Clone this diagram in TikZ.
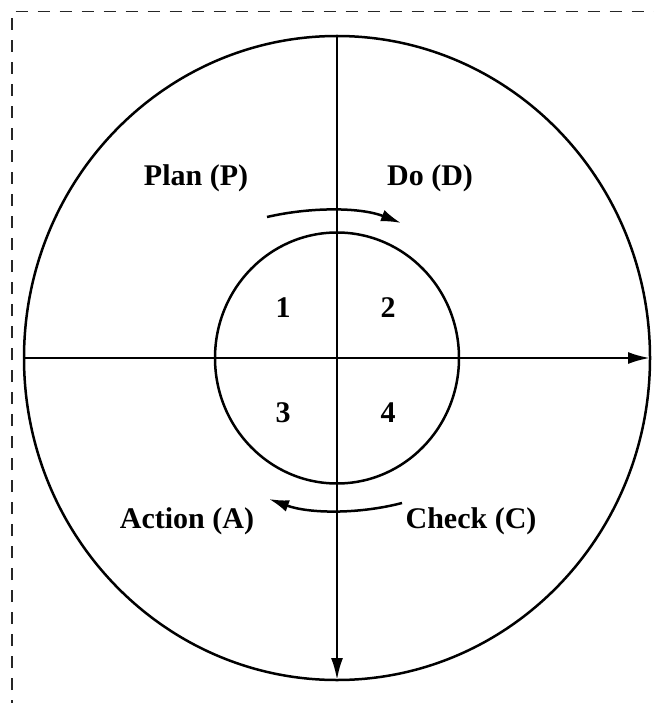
\documentclass[tikz,border=0pt]{standalone}
\usepackage{fontspec}
\setmainfont{Liberation Serif}
\usepackage{tikz}
\usetikzlibrary{shapes.geometric,arrows.meta,positioning}
\tikzstyle{ring} = [ellipse, draw=black, line width=2.5pt, inner sep=0pt, outer sep=0pt]
\tikzstyle{lbl} = [font=\fontsize{30}{32}\selectfont\bfseries, inner sep=0pt]
\tikzstyle{axis} = [line width=2.5pt, -{Latex[length=22pt,width=12pt]}]
\tikzstyle{turn} = [line width=2.5pt, -{Latex[length=20pt,width=12pt]}]

\begin{document}
\begin{tikzpicture}[x=1pt,y=-1pt]
\useasboundingbox (0,0) rectangle (653,703);
% Frame
\draw[black!85, line width=1.3pt, dash pattern=on 12pt off 10pt] (12,800) -- (12,11.5) -- (700,11.5);
% Circles
\node[ring, minimum width=626pt, minimum height=644pt] (outer) at (337,358) {};
\node[ring, minimum width=244pt, minimum height=251pt] (inner) at (337,358) {};
% Axes
\draw[axis] (outer.north) -- (outer.south);
\draw[axis] (outer.west) -- (outer.east);
% Phases
\node[lbl] (plan) at (196,178) {Plan (P)};
\node[lbl] (do) at (430,178) {Do (D)};
\node[lbl] (action) at (187,521) {Action (A)};
\node[lbl] (check) at (471,521) {Check (C)};
% Quadrants
\node[lbl] (q1) at (283,308) {1};
\node[lbl] (q2) at (388,308) {2};
\node[lbl] (q3) at (283,413) {3};
\node[lbl] (q4) at (388,413) {4};
% Rotation
\coordinate (ta) at (267,217);
\coordinate (tb) at (401,223);
\coordinate (ba) at (402,503);
\coordinate (bb) at (269,499);
\draw[turn] (ta) .. controls (310,207) and (360,207) .. (tb);
\draw[turn] (ba) .. controls (360,514) and (310,514) .. (bb);
\end{tikzpicture}
\end{document}
